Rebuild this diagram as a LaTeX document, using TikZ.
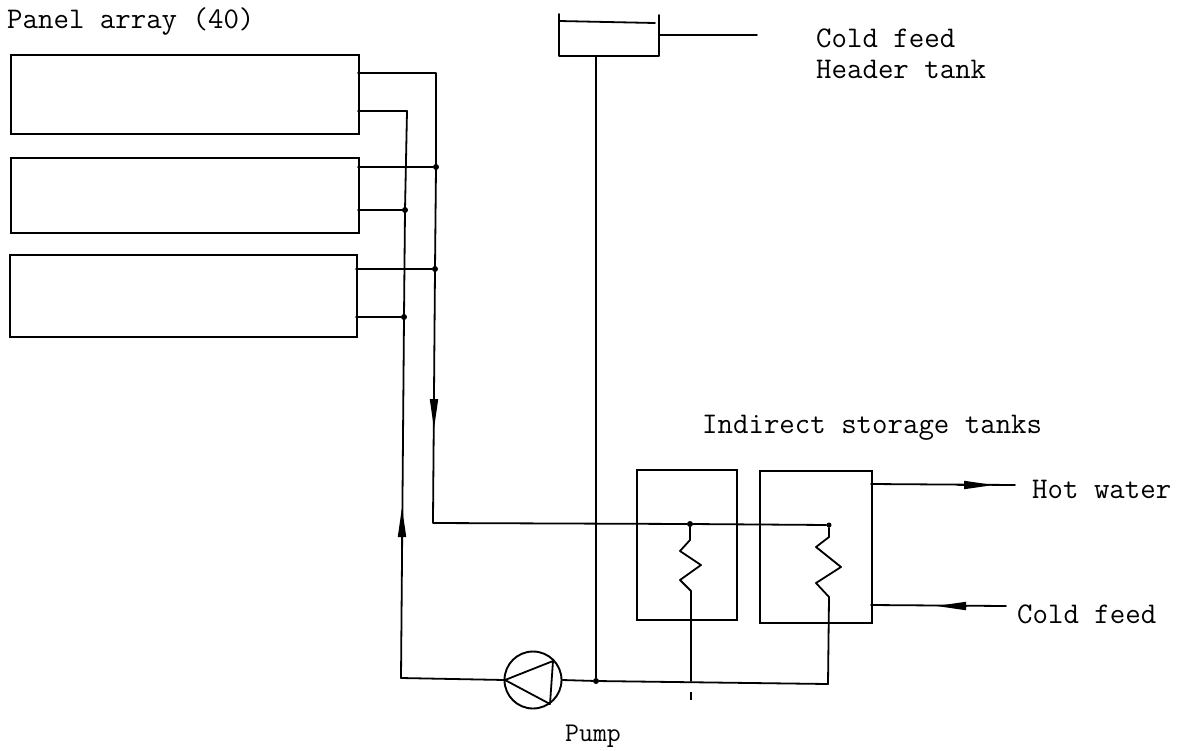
\documentclass[tikz,border=0pt]{standalone}
\usepackage{fontspec}
\setmonofont{Latin Modern Mono}
\usetikzlibrary{arrows.meta}
\tikzset{
 pipe/.style={line width=1.8pt,black,line cap=round,line join=round},
 thin pipe/.style={line width=1.4pt,black},
 box/.style={draw,line width=1.9pt,rectangle,inner sep=0pt,anchor=north west},
 lab/.style={font=\ttfamily\fontsize{30}{30}\selectfont,anchor=base west,inner sep=0pt},
 dot/.style={circle,fill=black,inner sep=0pt,minimum size=6pt},
 flow/.style={line width=1.8pt,-{Triangle[length=30pt,width=8pt]},shorten >=-1pt}
}
\begin{document}
\begin{tikzpicture}[x=1pt,y=-1pt]
\useasboundingbox (0,0) rectangle (1190,750);
% panels
\node[box,minimum width=348pt,minimum height=79pt] (p1) at (10,54) {};
\node[box,minimum width=348pt,minimum height=75pt] (p2) at (10,157) {};
\node[box,minimum width=347pt,minimum height=82pt] (p3) at (9,254) {};
\node[lab] (t1) at (7,28) {Panel array (40)};
% collector pipes
\coordinate (a1) at (358,73); \coordinate (a2) at (436,73);
\coordinate (b1) at (358,111); \coordinate (b2) at (407,111);
\coordinate (c1) at (358,167); \node[dot] (c2) at (436,167) {};
\coordinate (d1) at (358,210); \node[dot] (d2) at (405,210) {};
\coordinate (e1) at (356,269); \node[dot] (e2) at (435,269) {};
\coordinate (f1) at (356,317); \node[dot] (f2) at (404,317) {};
\coordinate (g) at (433,520); \coordinate (h) at (401,678);
\coordinate (g1) at (434,428); \coordinate (g2) at (434,398);
\draw[pipe] (a1)--(a2)--(c2.center)--(e2.center)--(g);
\draw[pipe] (b1)--(b2)--(d2.center)--(f2.center)--(h);
\draw[pipe] (c1)--(c2); \draw[pipe] (d1)--(d2);
\draw[pipe] (e1)--(e2); \draw[pipe] (f1)--(f2);
\draw[flow] (g2)--(g1);
\coordinate (h1) at (402,543); \coordinate (h2) at (402,508);
\draw[flow] (h1)--(h2);
% pump
\node[circle,draw,line width=1.9pt,minimum size=57pt,inner sep=0pt] (pump) at (533,680) {};
\coordinate (t-a) at (505,680); \coordinate (t-b) at (553,661); \coordinate (t-c) at (550,704);
\draw[pipe] (t-a)--(t-b)--(t-c)--cycle;
\draw[pipe] (h)--(t-a);
\node[dot] (j) at (596,681) {};
\coordinate (k) at (828,684);
\draw[pipe] (pump.east)--(j)--(k);
\node[lab,font=\ttfamily\fontsize{27}{27}\selectfont] (t6) at (565,741) {Pump};
% header tank
\coordinate (ht1) at (559,14); \coordinate (ht2) at (559,56); \coordinate (ht3) at (659,56); \coordinate (ht4) at (659,15);
\coordinate (ht5) at (559,21); \coordinate (ht6) at (655,23);
\draw[pipe] (ht1)--(ht2)--(ht3)--(ht4);
\draw[pipe] (ht5)--(ht6);
\coordinate (l1) at (660,35); \coordinate (l2) at (757,35);
\draw[pipe] (l1)--(l2);
\coordinate (m) at (596,56);
\draw[thin pipe] (m)--(j);
\node[lab] (t2) at (816,47) {Cold feed};
\node[lab] (t3) at (816,78) {Header tank};
% storage
\node[box,minimum width=100pt,minimum height=150pt] (s1) at (636,469) {};
\node[box,minimum width=112pt,minimum height=152pt] (s2) at (759,470) {};
\node[lab] (t4) at (702,433) {Indirect storage tanks};
\node[dot] (n1) at (690,524) {};
\node[dot,minimum size=5pt] (n2) at (829,525) {};
\draw[pipe] (g)--(433,523)--(n1)--(n2);
\draw[pipe] (n1)--(690,540)--(680,551)--(701,565)--(680,580)--(691,591)--(691,681);
\draw[pipe] (n2)--(829,537)--(816,547)--(841,567)--(816,583)--(829,597)--(k);
\coordinate (q1) at (691,692); \coordinate (q2) at (691,700);
\draw[thin pipe] (q1)--(q2);
% hot and cold
\coordinate (r1) at (871,484); \coordinate (r2) at (1015,485); \coordinate (r3) at (993,485); \coordinate (r4) at (958,485);
\draw[pipe] (r1)--(r2); \draw[flow] (r4)--(r3);
\coordinate (u1) at (871,605); \coordinate (u2) at (1006,606); \coordinate (u3) at (937,606); \coordinate (u4) at (967,606);
\draw[pipe] (u1)--(u2); \draw[flow] (u4)--(u3);
\node[lab] (t5) at (1032,498) {Hot water};
\node[lab] (t7) at (1017,623) {Cold feed};
\end{tikzpicture}
\end{document}
